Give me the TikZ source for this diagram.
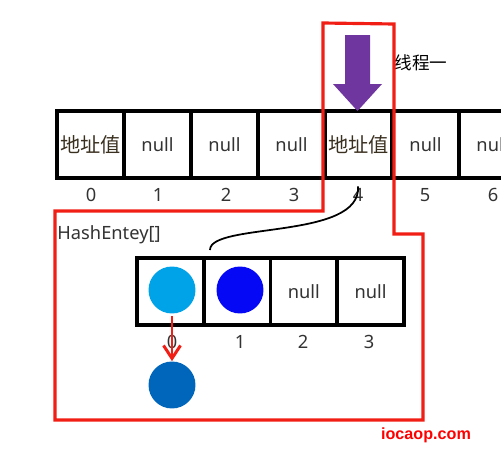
\documentclass[tikz,border=0pt]{standalone}
\usepackage{fontspec}
\setmainfont{Noto Sans}
\newfontfamily\cjk{Noto Sans CJK SC}
\newfontfamily\wmfont{Liberation Sans}
\usetikzlibrary{arrows.meta}
\definecolor{txtgray}{RGB}{51,51,51}
\definecolor{addrtxt}{RGB}{58,48,32}
\definecolor{thread}{RGB}{112,54,160}
\definecolor{markred}{RGB}{240,30,20}
\definecolor{lightblue}{RGB}{0,162,232}
\definecolor{pureblue}{RGB}{4,8,245}
\definecolor{darkblue}{RGB}{0,102,187}

\begin{document}
\begin{tikzpicture}[x=0.02cm, y=-0.02cm,
  font=\fontsize{10.4}{12}\selectfont,
  cell/.style={draw, line width=2pt, minimum width=1.34cm, minimum height=1.34cm, inner sep=0pt, text=txtgray},
  addr/.style={cell, text=addrtxt, font=\cjk\fontsize{11.5}{13}\selectfont},
  idx/.style={text=txtgray, inner sep=1pt},
  entry/.style={circle, minimum size=0.94cm, inner sep=0pt},
  arr/.style={-{Straight Barb[length=2.6mm, width=3.4mm]}, line width=1.7pt, markred}]
\useasboundingbox (0,0) rectangle (501,450);
% table
\node[addr] (c0) at (90.5,144.5) {地址值};
\node[cell] (c1) at (157.5,144.5) {null};
\node[cell] (c2) at (224.5,144.5) {null};
\node[cell] (c3) at (291.5,144.5) {null};
\node[addr] (c4) at (358.5,144.5) {地址值};
\node[cell] (c5) at (425.5,144.5) {null};
\node[cell] (c6) at (492.5,144.5) {null};
\node[idx] (i0) at (91,195) {0};
\node[idx] (i1) at (158,195) {1};
\node[idx] (i2) at (226,195) {2};
\node[idx] (i3) at (294,195) {3};
\node[idx] (i4) at (358,195) {4};
\node[idx] (i5) at (425,195) {5};
\node[idx] (i6) at (493,195) {6};
% thread one
\fill[thread] (345,35) -- (370,35) -- (370,84) -- (382,84) -- (357.5,111) -- (333,84) -- (345,84) -- cycle;
\node[font=\cjk\fontsize{10}{12}\selectfont] (t1) at (421,63) {线程一};
% HashEntey[]
\node[text=txtgray] (he) at (109,235) {HashEntey[]};
\node[cell, minimum width=1.335cm] (h0) at (170.4,291.5) {};
\node[cell, minimum width=1.335cm] (h1) at (237.1,291.5) {};
\node[cell, minimum width=1.335cm] (h2) at (303.9,291.5) {null};
\node[cell, minimum width=1.335cm] (h3) at (370.6,291.5) {null};
\node[idx] (j0) at (172,342) {0};
\node[idx] (j1) at (240,342) {1};
\node[idx] (j2) at (303,342) {2};
\node[idx] (j3) at (369,342) {3};
\node[entry, fill=lightblue] (e0) at (172,290) {};
\node[entry, fill=pureblue] (e1) at (240,290) {};
\node[entry, fill=darkblue] (e2) at (172,385) {};
\coordinate (hook) at (210,250);
\draw[line width=1pt] (i4.north) .. controls (362,240) and (210,222) .. (hook);
\draw[arr] ([yshift=-1.5pt]e0.south) -- (e2.north);
% region
\draw[markred, line width=1.8pt] (323,23) -- (394,24) -- (394,234) -- (423,234) -- (423,420)
  -- (55,420) -- (55,211) -- (323,211) -- cycle;
\node[font=\wmfont\bfseries\fontsize{9.2}{11}\selectfont, text=red] (wm) at (426,435) {iocaop.com};
\end{tikzpicture}
\end{document}
